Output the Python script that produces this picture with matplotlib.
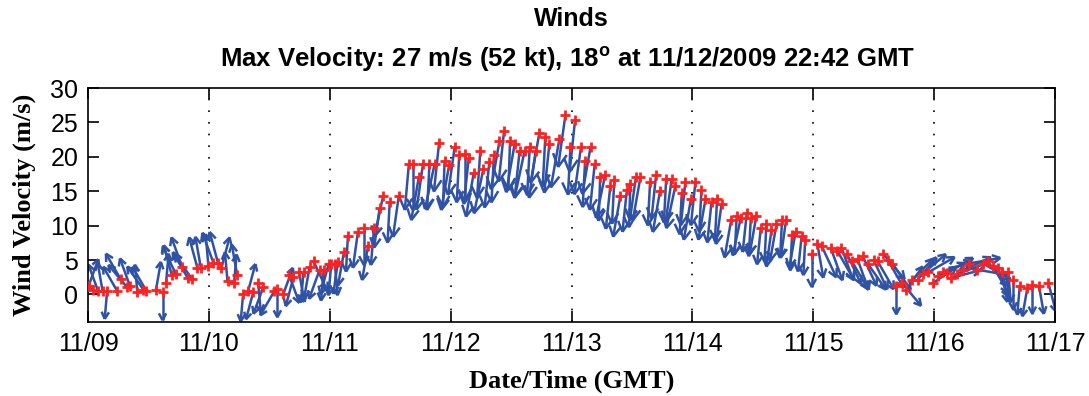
from matplotlib import pyplot as plt
from matplotlib.collections import LineCollection
import numpy as np

# hourly wind record, hours since 11/09/2009 00:00 GMT
time_h = [0.1, 0.9, 2.0, 2.9, 3.8, 5.8, 6.5, 7.7, 8.3, 9.8, 11.0, 11.6, 13.5, 14.8, 15.5, 16.6,
          17.4, 18.7, 19.8, 20.6, 21.7, 22.4, 23.9, 24.9, 25.8, 26.5, 27.7, 29.0, 29.6, 30.8, 31.8,
          32.8, 33.8, 34.8, 37.0, 37.6, 38.8, 39.9, 40.8, 41.9, 42.8, 44.0, 44.8, 46.0, 46.8, 47.8,
          48.3, 49.0, 49.6, 50.8, 51.6, 53.6, 54.8, 55.6, 56.8, 57.9, 58.6, 59.9, 61.7, 63.7, 64.5,
          65.7, 66.5, 67.8, 68.8, 69.7, 70.8, 71.7, 72.8, 73.7, 74.8, 75.6, 76.6, 77.9, 78.5, 79.7,
          80.6, 81.7, 82.6, 83.8, 84.7, 85.7, 86.7, 87.7, 88.9, 89.6, 90.8, 91.6, 93.6, 94.8, 95.8,
          96.7, 97.9, 98.7, 99.8, 100.6, 101.7, 102.7, 103.7, 104.5, 105.7, 107.0, 107.7, 108.8,
          109.7, 111.6, 112.8, 113.6, 114.8, 115.9, 116.6, 117.9, 118.6, 119.7, 120.6, 121.8, 122.6,
          123.8, 124.9, 125.8, 127.7, 128.8, 129.6, 130.8, 131.6, 132.7, 133.6, 134.7, 135.7, 136.7,
          137.8, 138.6, 139.8, 140.5, 141.7, 142.4, 143.7, 144.8, 145.7, 147.5, 148.8, 149.6, 150.7,
          151.7, 152.8, 153.8, 154.8, 156.0, 156.8, 157.9, 158.8, 159.7, 160.5, 161.7, 162.5, 163.6,
          164.7, 165.7, 166.8, 167.7, 168.7, 169.7, 170.5, 171.4, 172.6, 173.7, 174.9, 176.6, 177.7,
          178.6, 179.6, 180.6, 181.5, 182.7, 183.7, 185.0, 186.5, 187.5, 188.8, 190.7]

speed = [1.2, 0.7, 0.5, 0.5, 0.5, 0.5, 2.2, 1.1, 1.3, 0.3, 0.7, 0.5, 0.7, 0.3, 1.7, 2.9,
         3.0, 4.0, 2.4, 2.3, 3.9, 3.9, 4.2, 4.6, 4.6, 3.9, 1.9, 1.6, 2.9, 0.1, 0.5,
         0.3, 1.7, 1.1, 0.5, 0.8, 0.1, 2.9, 2.5, 3.3, 3.3, 4.0, 4.8, 3.6, 3.6, 4.5,
         4.5, 4.5, 4.7, 6.1, 8.5, 9.1, 9.6, 7.0, 9.6, 12.5, 14.3, 13.4, 14.3, 18.9, 18.9,
         17.1, 18.9, 18.9, 18.9, 22.0, 19.4, 18.8, 21.4, 20.2, 20.4, 19.9, 17.7, 20.9, 18.2, 19.3,
         20.2, 22.3, 23.7, 22.3, 21.8, 20.9, 20.9, 21.4, 20.9, 23.4, 22.9, 21.8, 22.6, 26.1, 21.5,
         25.3, 21.5, 19.4, 21.5, 18.9, 17.1, 17.4, 15.7, 16.6, 14.3, 15.2, 16.0, 17.1,
         17.1, 16.3, 17.4, 15.1, 16.8, 16.8, 15.7, 14.8, 16.3, 13.8, 16.3, 15.2, 13.8,
         13.4, 13.8, 13.1, 10.8, 11.4, 11.1, 11.8, 11.1, 11.4, 9.7, 10.2, 9.3, 10.2,
         10.8, 10.8, 8.7, 9.1, 8.5, 7.9, 5.9, 7.4, 7.0, 6.7, 6.3, 6.8, 5.9,
         4.8, 5.1, 5.6, 4.5, 5.0, 4.8, 5.9, 5.0, 4.5, 1.3, 1.6, 0.7, 2.1,
         2.1, 3.0, 3.2, 1.6, 2.7, 3.3, 3.1, 2.4, 3.0, 3.5, 4.5, 3.6, 4.5,
         4.8, 4.2, 3.9, 3.3, 3.3, 2.1, 1.2, 0.9, 1.4, 1.3, 1.6]

# direction the wind blows from, degrees true
wind_from = [200, 120, 160, 170, 5, 150, 150, 140, 160, 175, 145, 150, 190, 0, 185, 165,
             155, 160, 150, 145, 165, 170, 175, 160, 165, 195, 175, 185, 170, 5, 195,
             15, 355, 20, 30, 0, 200, 340, 15, 350, 5, 10, 335, 20, 5, 15,
             5, 355, 8, 10, 3, 8, 0, 10, 5, 8, 12, 3, 8, 5, 0,
             10, 8, 3, 12, 6, 2, 10, 8, 3, 0, 6, 10, 4, 12, 6,
             3, 10, 6, 2, 10, 6, 12, 3, 8, 10, 3, 6, 10, 8, 3,
             6, 8, 3, 10, 6, 2, 12, 6, 3, 10, 6, 2, 8,
             10, 3, 6, 10, 3, 8, 12, 3, 6, 10, 6, 3, 10,
             6, 3, 8, 10, 3, 12, 6, 3, 10, 6, 3, 8, 10,
             3, 8, 3, 10, 6, 3, 0, 350, 335, 340, 330, 340, 335,
             330, 340, 335, 325, 335, 330, 320, 330, 325, 0, 320, 215, 225,
             220, 230, 240, 235, 245, 250, 240, 255, 250, 245, 260, 280, 300,
             320, 330, 340, 350, 355, 0, 5, 10, 0, 350, 345]

day_ticks = [0, 24, 48, 72, 96, 120, 144, 168, 192]
day_labels = ["11/09", "11/10", "11/11", "11/12", "11/13", "11/14", "11/15", "11/16", "11/17"]

plt.rcParams['mathtext.fontset'] = 'custom'
plt.rcParams['mathtext.bf'] = 'Liberation Sans:bold'
plt.rcParams['mathtext.rm'] = 'Liberation Sans:bold'

sans = 'Liberation Sans'
blue = '#2F52A4'

fig = plt.figure(figsize=(10.89, 3.96), dpi=100)
ax_left, ax_bottom, ax_w, ax_h = 88 / 1089, 1 - 322 / 396, (1055 - 88) / 1089, (322 - 88) / 396
ax = fig.add_axes([ax_left, ax_bottom, ax_w, ax_h])

xlim = (0, 192)
ylim = (-4, 30)
ax.set_xlim(xlim)
ax.set_ylim(ylim)

# arrows: hours per m/s so that the sticks keep their true angle on screen
k = ((xlim[1] - xlim[0]) / (ax_w * 1089)) / ((ylim[1] - ylim[0]) / (ax_h * 396))
t = np.array(time_h)
s = np.array(speed)
to = np.deg2rad(np.array(wind_from) + 180.0)
L = 4.0 + 0.14 * s
dxu = L * np.sin(to)
dyu = L * np.cos(to)
tip_x = t + dxu * k
tip_y = s + dyu
segs = []
hl = 0.28 * L
for i in range(len(t)):
    segs.append([(t[i], s[i]), (tip_x[i], tip_y[i])])
    for a in (np.deg2rad(28), -np.deg2rad(28)):
        bx = -(dxu[i] * np.cos(a) - dyu[i] * np.sin(a)) / L[i] * hl[i]
        by = -(dxu[i] * np.sin(a) + dyu[i] * np.cos(a)) / L[i] * hl[i]
        segs.append([(tip_x[i], tip_y[i]), (tip_x[i] + bx * k, tip_y[i] + by)])
ax.add_collection(LineCollection(segs, colors=blue, linewidths=1.8, zorder=2))

ax.plot(t, s, '+', color='#FF2020', ms=7, mew=2, zorder=3, linestyle='none')

for d in day_ticks[1:-1]:
    ax.axvline(d, color='black', lw=1.2, linestyle=(0, (1, 6)), zorder=1)

ax.set_xticks(day_ticks)
ax.set_xticklabels(day_labels, family=sans, fontsize=18)
ax.set_yticks(np.arange(0, 31, 5))
ax.set_yticklabels([str(v) for v in range(0, 31, 5)], family=sans, fontsize=18)
ax.tick_params(direction='in', length=8, width=1.2, top=True, right=True, pad=7)
for sp in ax.spines.values():
    sp.set_linewidth(1.2)

ax.set_xlabel("Date/Time (GMT)", family='Liberation Serif', fontweight='bold', fontsize=19, labelpad=10)
ax.set_ylabel("Wind Velocity (m/s)", family='Liberation Serif', fontweight='bold', fontsize=19, labelpad=10)

fig.text(0.525, 0.953, "Winds", ha='center', va='center', family=sans, fontweight='bold', fontsize=18)
fig.text(0.521, 0.85, r"Max Velocity: 27 m/s (52 kt), 18$^{\mathbf{o}}$ at 11/12/2009 22:42 GMT",
         ha='center', va='center', family=sans, fontweight='bold', fontsize=18.5)

fig.savefig("out.png", dpi=100)
